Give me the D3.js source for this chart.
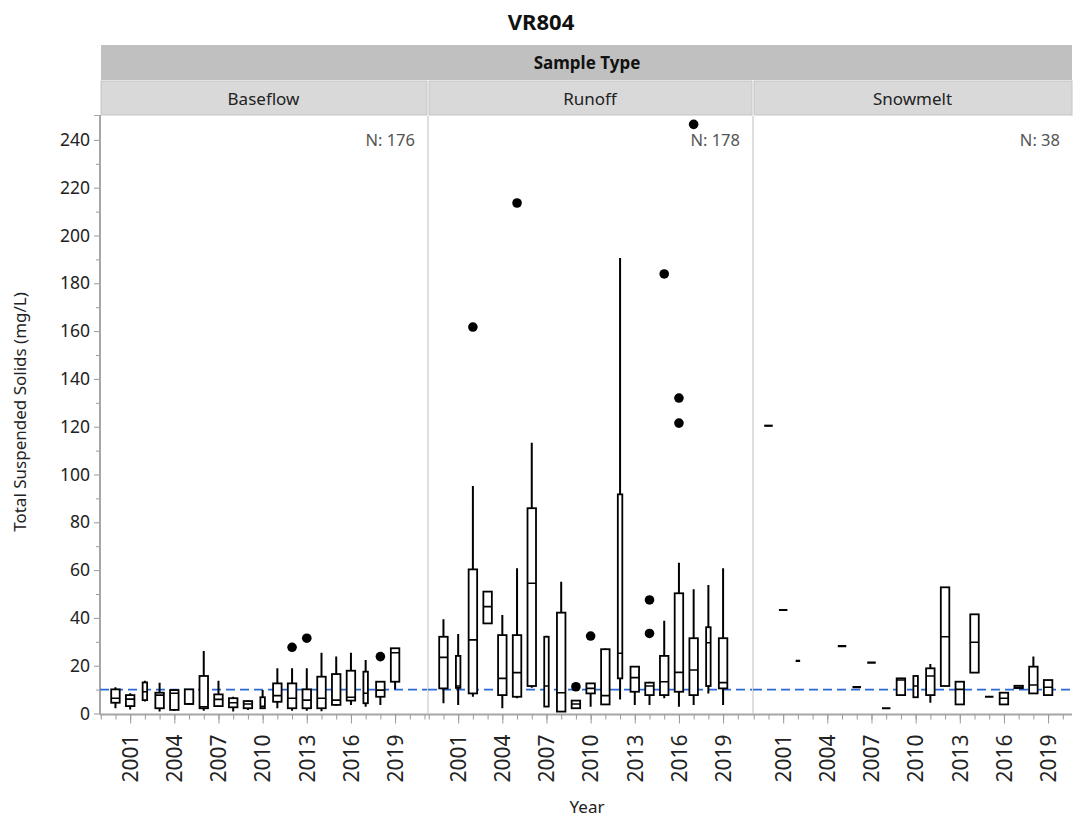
<!DOCTYPE html>
<html><head><meta charset="utf-8">
<script src="https://cdn.jsdelivr.net/npm/d3@7"></script>
<style>body{margin:0;background:#fff}svg{display:block;font-family:"Noto Sans",sans-serif}</style>
</head><body><svg id="c" width="1076" height="819"></svg>
<script>
// ---------- data ----------
const title = "VR804";
const facetTitle = "Sample Type";
const sampleTypes = ["Baseflow", "Runoff", "Snowmelt"];
const sampleCounts = [176, 178, 38];
const years = [2000,2001,2002,2003,2004,2005,2006,2007,2008,2009,2010,2011,2012,2013,2014,2015,2016,2017,2018,2019];
const yearTicks = [2001,2004,2007,2010,2013,2016,2019];
const valueTicks = [0,20,40,60,80,100,120,140,160,180,200,220,240];
const referenceValue = 10;
// [min, q1, median, q3, max] per year
const baseflowStats = [
  [2.2,4.5,6.4,10.1,11.0],[1.7,3.1,6.0,7.7,8.5],[5.0,5.6,9.1,13.0,13.7],[0.8,2.2,7.7,8.7,12.9],
  [1.0,1.5,8.5,9.8,10.3],[4.0,4.0,4.0,10.1,10.1],[1.2,2.2,2.8,15.7,26.2],[3.1,3.1,5.9,8.0,13.7],
  [0.8,2.6,4.5,6.4,7.0],[1.5,2.2,4.0,5.2,5.5],[2.2,2.2,3.0,6.8,9.8],[2.2,4.9,7.5,12.6,18.9],
  [1.2,2.2,6.4,12.6,18.9],[1.2,2.2,5.6,10.1,18.9],[0.9,2.2,6.4,15.4,25.4],[3.2,3.6,5.6,16.5,23.8],
  [3.6,5.4,6.8,17.9,25.4],[2.8,4.3,8.5,17.5,22.4],[3.6,7.0,9.8,13.3,13.3],[10.1,13.3,25.4,27.3,27.3]
];
const baseflowOutliers = [[2012,27.7],[2013,31.5],[2018,23.8]];
const runoffStats = [
  [4.3,10.5,23.5,32.1,39.4],[3.6,10.7,11.5,24.1,33.3],[7.0,8.4,30.8,60.3,95.2],[37.7,37.7,44.7,51.0,51.0],
  [2.2,7.7,14.7,32.8,41.2],[6.4,7.0,17.1,32.8,60.8],[10.8,11.5,54.5,85.9,113.3],[2.9,2.9,11.5,32.1,32.5],
  [0.8,0.8,8.7,42.2,55.1],[2.2,2.2,4.0,5.4,5.4],[2.8,8.4,10.5,12.6,12.6],[3.6,3.8,7.5,26.9,27.2],
  [5.9,14.7,25.2,91.7,190.6],[3.6,9.1,15.0,19.6,19.6],[3.6,7.7,11.5,12.9,13.3],[6.4,7.7,13.3,24.1,38.8],
  [2.8,9.1,17.2,50.3,63.1],[3.6,7.7,18.2,31.5,52.0],[8.4,11.5,29.6,36.1,53.8],[3.6,10.5,12.9,31.5,60.8]
];
const runoffOutliers = [[2002,161.7],[2005,213.6],[2009,11.2],[2010,32.4],[2014,47.5],[2014,33.5],[2015,183.9],[2016,132.0],[2016,121.5],[2017,246.5]];
const snowmeltStats = [
  [120.4,120.4,120.4,120.4,120.4],[43.3,43.3,43.3,43.3,43.3],[22.0,22.0,22.0,22.0,22.0],null,
  null,[28.2,28.2,28.2,28.2,28.2],[11.0,11.0,11.0,11.0,11.0],[21.3,21.3,21.3,21.3,21.3],
  [2.2,2.2,2.2,2.2,2.2],[7.7,7.7,14.0,14.7,14.7],[6.8,6.8,11.5,15.7,15.7],[4.5,7.7,15.7,18.9,20.7],
  [11.5,11.5,32.1,52.8,52.8],[3.8,3.8,10.1,13.3,13.3],[17.1,17.1,29.8,41.5,41.5],[7.0,7.0,7.0,7.0,7.0],
  [3.8,3.8,6.4,8.7,8.7],[10.6,10.6,11.0,11.6,11.6],[8.4,8.4,11.9,19.6,23.8],[7.7,7.7,11.0,14.0,14.0]
];
const snowmeltOutliers = [];
const statsByType = [baseflowStats, runoffStats, snowmeltStats];
const outliersByType = [baseflowOutliers, runoffOutliers, snowmeltOutliers];

// ---------- style ----------
const narrowBoxes = [[2002,2010,2017],[2001,2007,2012,2018],[2002,2010]];
const panels = [{x0:100, x1:427}, {x0:428, x1:752}, {x0:753, x1:1072}];
const plotTop = 116, plotBottom = 713.5;
const FONT = "'Segoe UI','Noto Sans',sans-serif";

const svg = d3.select("#c");
const y = d3.scaleLinear().domain([0,250]).range([plotBottom, plotTop]);

// title
svg.append("text").attr("x",541).attr("y",30).attr("text-anchor","middle")
  .attr("font-size",22).attr("font-weight","bold").attr("fill","#111").text(title);
// facet strip
svg.append("rect").attr("x",101).attr("y",45).attr("width",971).attr("height",35).attr("fill","#c0c0c0");
svg.append("text").attr("x",587).attr("y",69).attr("text-anchor","middle")
  .attr("font-size",17).attr("font-weight","bold").attr("fill","#111").text(facetTitle);

const clipDefs = svg.append("defs");
sampleTypes.forEach((name, i) => {
  const p = panels[i];
  svg.append("rect").attr("x",p.x0+1).attr("y",81).attr("width",p.x1-p.x0-1).attr("height",34)
    .attr("fill","#d9d9d9").attr("stroke","#c4c4c4").attr("stroke-width",1);
  svg.append("text").attr("x",(p.x0+p.x1)/2).attr("y",105).attr("text-anchor","middle")
    .attr("font-size",17).attr("fill","#222").text(name);
  clipDefs.append("clipPath").attr("id","clip"+i).append("rect")
    .attr("x",p.x0).attr("y",plotTop).attr("width",p.x1-p.x0).attr("height",plotBottom-plotTop+2);
});

// separators
[428, 753].forEach(x => svg.append("line").attr("x1",x).attr("x2",x).attr("y1",116).attr("y2",plotBottom)
  .attr("stroke","#d4d4d4").attr("stroke-width",1.5));

// y axis
const yAxis = d3.axisLeft(y).tickValues(valueTicks).tickSize(6).tickPadding(4);
const gy = svg.append("g").attr("transform","translate(100,0)").call(yAxis);
gy.select(".domain").remove();
gy.selectAll("line").attr("stroke","#999");
gy.selectAll("text").attr("font-size",17.5).attr("fill","#222").attr("font-family","Noto Sans, sans-serif");
const gyMinor = svg.append("g").attr("transform","translate(100,0)")
  .call(d3.axisLeft(y).tickValues(valueTicks.slice(0,-1).map(v=>v+10)).tickSize(4).tickFormat(""));
gyMinor.select(".domain").remove();
gyMinor.selectAll("line").attr("stroke","#999");
svg.append("line").attr("x1",100).attr("x2",100).attr("y1",115).attr("y2",plotBottom+1).attr("stroke","#a6a6a6").attr("stroke-width",2);
svg.append("line").attr("x1",94).attr("x2",100).attr("y1",115.5).attr("y2",115.5).attr("stroke","#a6a6a6");

svg.append("text").attr("transform","translate(26,412) rotate(-90)").attr("text-anchor","middle")
  .attr("font-size",17).attr("fill","#222").text("Total Suspended Solids (mg/L)");

// x axis baseline
svg.append("line").attr("x1",100).attr("x2",1072).attr("y1",plotBottom+1).attr("y2",plotBottom+1)
  .attr("stroke","#a6a6a6").attr("stroke-width",2);

sampleTypes.forEach((name, i) => {
  const p = panels[i];
  const x = d3.scaleLinear().domain([1999-0.05, 2021.1]).range([p.x0, p.x0+326]);
  const minorYears = d3.range(1999, 2022).filter(v => x(v) <= p.x1);
  const gxMinor = svg.append("g").attr("transform",`translate(0,${plotBottom+1})`)
    .call(d3.axisBottom(x).tickValues(minorYears).tickSize(5).tickFormat(""));
  gxMinor.select(".domain").remove();
  gxMinor.selectAll("line").attr("stroke","#999");
  const gx = svg.append("g").attr("transform",`translate(0,${plotBottom+1})`)
    .call(d3.axisBottom(x).tickValues(yearTicks).tickSize(9).tickFormat(d3.format("d")));
  gx.select(".domain").remove();
  gx.selectAll("line").attr("stroke","#999");
  gx.selectAll("text").attr("font-size",21).attr("fill","#222").attr("font-family","Noto Sans, sans-serif")
    .attr("text-anchor","end").attr("transform","rotate(-90)").attr("x",-20).attr("y",0).attr("dy","0.35em");

  // N label
  svg.append("text").attr("x",p.x1-12).attr("y",146).attr("text-anchor","end")
    .attr("font-size",16.5).attr("fill","#555").text("N: " + sampleCounts[i]);

  const g = svg.append("g").attr("clip-path",`url(#clip${i})`);
  // reference line
  g.append("line").attr("x1",p.x0).attr("x2",p.x1).attr("y1",y(referenceValue)).attr("y2",y(referenceValue))
    .attr("stroke","#2a6ad6").attr("stroke-width",1.6).attr("stroke-dasharray","9,5");

  const data = years.map((yr, k) => ({yr, s: statsByType[i][k]})).filter(d => d.s);
  data.forEach(d => {
    const [mn,q1,md,q3,mx] = d.s;
    const cx = x(d.yr);
    const w = narrowBoxes[i].includes(d.yr) ? 4.5 : 8.5;
    if (mx > q3) g.append("line").attr("x1",cx).attr("x2",cx).attr("y1",y(mx)).attr("y2",y(q3)).attr("stroke","#000").attr("stroke-width",2);
    if (mn < q1) g.append("line").attr("x1",cx).attr("x2",cx).attr("y1",y(q1)).attr("y2",y(mn)).attr("stroke","#000").attr("stroke-width",2);
    if (q3 > q1) {
      g.append("rect").attr("x",cx-w/2).attr("y",y(q3)).attr("width",w).attr("height",y(q1)-y(q3))
        .attr("fill","#fff").attr("stroke","#000").attr("stroke-width",1.8);
    }
    g.append("line").attr("x1",cx-w/2).attr("x2",cx+w/2).attr("y1",y(md)).attr("y2",y(md))
      .attr("stroke","#000").attr("stroke-width",q3 > q1 ? 1.6 : 2.2);
  });
  g.selectAll("circle.o").data(outliersByType[i]).enter().append("circle")
    .attr("cx", d => x(d[0])).attr("cy", d => y(d[1])).attr("r",4.8).attr("fill","#000");
});

svg.append("text").attr("x",587).attr("y",813).attr("text-anchor","middle")
  .attr("font-size",17).attr("fill","#222").text("Year");
</script></body></html>
